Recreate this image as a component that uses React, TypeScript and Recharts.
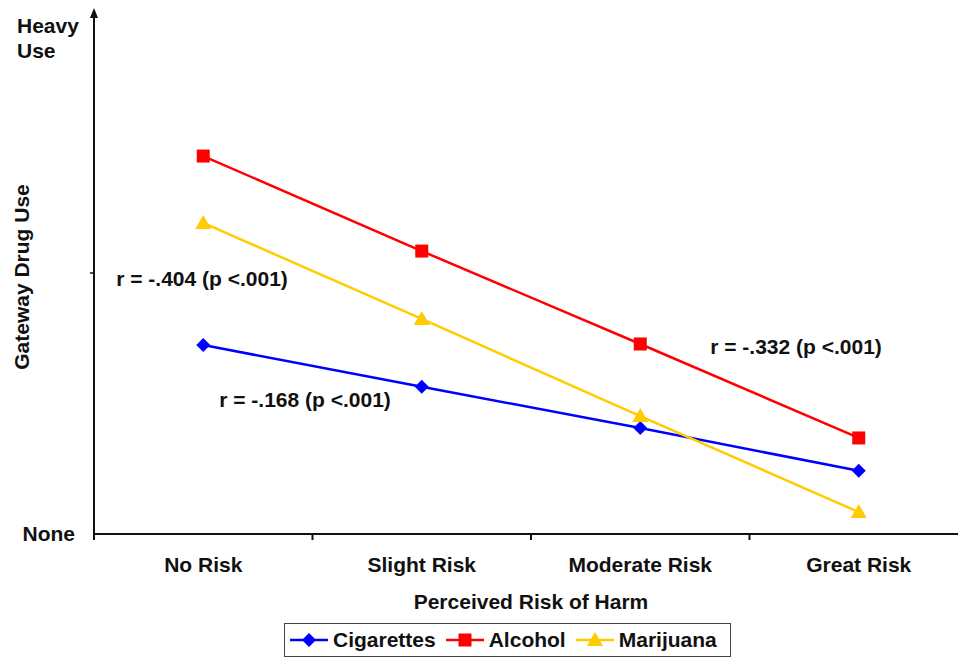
import React from "react";
import { Legend, Line, LineChart, ReferenceDot, XAxis, YAxis } from "recharts";

const categories = ["No Risk", "Slight Risk", "Moderate Risk", "Great Risk"];
const cigarettes = [36.2, 28.2, 20.3, 12.1];
const alcohol = [72.4, 54.2, 36.4, 18.4];
const marijuana = [59.6, 41.2, 22.6, 4.2];
const yTicks = [0, 50, 95];

const BLUE = "#0000FF";
const RED = "#FF0000";
const YELLOW = "#FFCC00";
const INK = "#111";
const FONT = "Arial, 'Liberation Sans', sans-serif";
const FS = 21;

const data = categories.map((name, i) => ({
  name,
  Cigarettes: cigarettes[i],
  Alcohol: alcohol[i],
  Marijuana: marijuana[i],
}));

// plot spans past the right edge of the window, like the original
const CHART_W = 980;
const PLOT_LEFT = 94;
const PLOT_RIGHT = 968;
const HALF_BAND = (PLOT_RIGHT - PLOT_LEFT) / categories.length / 2;

const Diamond = ({ cx, cy, color }: any) => (
  <polygon
    points={`${cx},${cy - 7} ${cx + 7},${cy} ${cx},${cy + 7} ${cx - 7},${cy}`}
    fill={color}
  />
);
const Square = ({ cx, cy, color }: any) => (
  <rect x={cx - 6.5} y={cy - 6.5} width={13} height={13} fill={color} />
);
const Triangle = ({ cx, cy, color }: any) => (
  <polygon
    points={`${cx},${cy - 8} ${cx + 8},${cy + 6} ${cx - 8},${cy + 6}`}
    fill={color}
  />
);

const series = [
  { key: "Cigarettes", color: BLUE, Marker: Diamond },
  { key: "Alcohol", color: RED, Marker: Square },
  { key: "Marijuana", color: YELLOW, Marker: Triangle },
];

const textStyle = { fontFamily: FONT, fontWeight: "bold" as const, fontSize: FS, fill: INK };

const XTick = ({ x, y, payload }: any) => (
  <g>
    <line x1={x - HALF_BAND} x2={x - HALF_BAND} y1={534} y2={540} stroke={INK} strokeWidth={2} />
    <text x={x} y={y + 30} textAnchor="middle" {...textStyle}>
      {payload.value}
    </text>
  </g>
);

const YTick = ({ x, y, payload }: any) => {
  if (payload.value === 0)
    return (
      <text x={x - 11} y={y + 7} textAnchor="end" {...textStyle}>
        None
      </text>
    );
  if (payload.value === 50)
    return <line x1={90} x2={94} y1={y} y2={y} stroke={INK} strokeWidth={1.5} />;
  return (
    <text x={17} y={y - 5} textAnchor="start" {...textStyle}>
      <tspan x={17} dy={0}>Heavy</tspan>
      <tspan x={17} dy={25}>Use</tspan>
    </text>
  );
};

const YTitle = ({ viewBox }: any) => (
  <g>
    <polygon points={`${PLOT_LEFT},${viewBox.y - 4} ${PLOT_LEFT + 4},${viewBox.y + 6} ${PLOT_LEFT - 4},${viewBox.y + 6}`} fill={INK} />
    <text
      x={29}
      y={viewBox.y + viewBox.height / 2 + 4}
      textAnchor="middle"
      transform={`rotate(-90, 29, ${viewBox.y + viewBox.height / 2 + 4})`}
      {...textStyle}
    >
      Gateway Drug Use
    </text>
  </g>
);

const XTitle = ({ viewBox }: any) => (
  <text x={PLOT_LEFT + (PLOT_RIGHT - PLOT_LEFT) / 2} y={viewBox.y + 75} textAnchor="middle" {...textStyle}>
    Perceived Risk of Harm
  </text>
);

const LegendBox = () => (
  <div
    style={{
      boxSizing: "border-box",
      width: 447,
      height: 34,
      border: "1.5px solid #444",
      display: "flex",
      alignItems: "center",
      paddingLeft: 5,
      fontFamily: FONT,
      fontWeight: "bold",
      fontSize: FS,
      color: INK,
    }}
  >
    {series.map(({ key, color, Marker }) => (
      <span key={key} style={{ display: "flex", alignItems: "center", marginRight: 10 }}>
        <svg width={38} height={18}>
          <line x1={0} x2={38} y1={9} y2={9} stroke={color} strokeWidth={2.5} />
          <Marker cx={19} cy={9} color={color} />
        </svg>
        <span style={{ marginLeft: 5 }}>{key}</span>
      </span>
    ))}
  </div>
);

const Note = (dx: number, text: string) => (p: any) => (
  <text x={p.cx + dx} y={p.cy + 7.5} textAnchor="start" {...textStyle}>
    {text}
  </text>
);

export default function App() {
  return (
    <div
      style={{
        position: "fixed",
        left: 0,
        top: 0,
        width: 958,
        height: 658,
        overflow: "hidden",
        background: "#fff",
      }}
    >
      <LineChart
        width={CHART_W}
        height={658}
        data={data}
        margin={{ top: 12, right: CHART_W - PLOT_RIGHT, left: 0, bottom: 0 }}
      >
        <XAxis
          dataKey="name"
          interval={0}
          padding={{ left: HALF_BAND, right: HALF_BAND }}
          tickLine={false}
          axisLine={{ stroke: INK, strokeWidth: 2 }}
          tick={<XTick />}
          height={90}
          label={<XTitle />}
        />
        <YAxis
          width={PLOT_LEFT}
          domain={[0, 100]}
          ticks={yTicks}
          tickLine={false}
          axisLine={{ stroke: INK, strokeWidth: 2 }}
          tick={<YTick />}
          label={<YTitle />}
        />
        {series.map(({ key, color, Marker }) => (
          <Line
            key={key}
            dataKey={key}
            stroke={color}
            strokeWidth={2.5}
            isAnimationActive={false}
            dot={(p: any) => <Marker key={`${key}-${p.index}`} cx={p.cx} cy={p.cy} color={color} />}
            activeDot={false}
          />
        ))}
        <ReferenceDot x="No Risk" y={49.0} r={0} shape={Note(-87, "r = -.404 (p <.001)")} />
        <ReferenceDot x="No Risk" y={25.7} r={0} shape={Note(16, "r = -.168 (p <.001)")} />
        <ReferenceDot x="Moderate Risk" y={35.9} r={0} shape={Note(70, "r = -.332 (p <.001)")} />
        <Legend
          content={<LegendBox />}
          wrapperStyle={{ left: 284, top: 623, bottom: "auto", width: 447, height: 34 }}
        />
      </LineChart>
    </div>
  );
}
